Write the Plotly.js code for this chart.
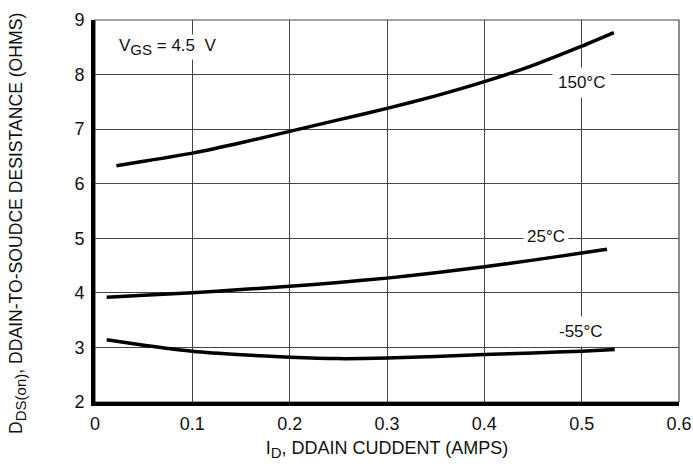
<!DOCTYPE html>
<html><head><meta charset="utf-8">
<script src="https://cdn.plot.ly/plotly-3.0.1.min.js"></script>
<style>html,body{margin:0;padding:0;background:#fff}#chart{width:693px;height:470px}</style>
</head><body><div id="chart"></div>
<script>
const x150 = [0.022, 0.05, 0.1, 0.15, 0.2, 0.25, 0.3, 0.35, 0.4, 0.45, 0.5, 0.533];
const y150 = [6.33, 6.41, 6.56, 6.75, 6.96, 7.17, 7.38, 7.61, 7.87, 8.17, 8.52, 8.77];
const x25 = [0.012, 0.05, 0.1, 0.15, 0.2, 0.25, 0.3, 0.35, 0.4, 0.45, 0.5, 0.526];
const y25 = [3.92, 3.955, 4.0, 4.06, 4.12, 4.19, 4.27, 4.37, 4.48, 4.6, 4.73, 4.8];
const xm55 = [0.012, 0.05, 0.1, 0.15, 0.2, 0.25, 0.3, 0.35, 0.4, 0.45, 0.5, 0.534];
const ym55 = [3.14, 3.04, 2.93, 2.865, 2.82, 2.795, 2.805, 2.835, 2.87, 2.9, 2.93, 2.96];
const xTicks = [0, 0.1, 0.2, 0.3, 0.4, 0.5, 0.6];
const xTickText = ['0', '0.1', '0.2', '0.3', '0.4', '0.5', '0.6'];
const yTicks = [2, 3, 4, 5, 6, 7, 8, 9];
const seriesNames = ['150°C', '25°C', '-55°C'];

const font = 'Liberation Sans, Arial, sans-serif';
const lineStyle = {color: '#000', width: 3.5, shape: 'spline', smoothing: 0.5};
const data = [
  {x: x150, y: y150, name: seriesNames[0]},
  {x: x25, y: y25, name: seriesNames[1]},
  {x: xm55, y: ym55, name: seriesNames[2]}
].map(t => Object.assign(t, {mode: 'lines', line: lineStyle, hoverinfo: 'skip'}));

const layout = {
  width: 693, height: 470,
  margin: {l: 95, r: 14, t: 20, b: 68},
  paper_bgcolor: '#fff', plot_bgcolor: '#fff',
  showlegend: false,
  font: {family: font, color: '#111', size: 16},
  xaxis: {
    range: [0, 0.6], tickvals: xTicks, ticktext: xTickText,
    showgrid: true, gridcolor: '#444', gridwidth: 1,
    zeroline: false, showline: true, linecolor: '#000', linewidth: 4,
    ticks: '', ticklabelstandoff: 2,
    tickfont: {family: font, size: 18, color: '#111'},
    title: {text: 'I<sub><span style="font-size:15px">D</span></sub>, DDAIN CUDDENT (AMPS)', font: {family: font, size: 18, color: '#111'}, standoff: 10}
  },
  yaxis: {
    range: [2, 9], tickvals: yTicks,
    showgrid: true, gridcolor: '#444', gridwidth: 1,
    zeroline: false, showline: true, linecolor: '#000', linewidth: 4,
    ticks: '', ticklabelstandoff: 3,
    tickfont: {family: font, size: 18, color: '#111'}
  },
  shapes: [
    {type: 'rect', xref: 'paper', yref: 'paper', x0: 0, x1: 1, y0: 0, y1: 1, line: {color: '#444', width: 1.2}, layer: 'below'}
  ],
  annotations: [
    {x: (17 - 95) / 584, y: (402 - 224) / 382, xref: 'paper', yref: 'paper', xanchor: 'center', yanchor: 'middle',
     showarrow: false, textangle: -90,
     text: 'D<sub><span style="font-size:15px">DS(on)</span></sub>, DDAIN-TO-SOUDCE DESISTANCE (OHMS)',
     font: {family: font, size: 17.6, color: '#111'}},
    {x: 0.023, y: 8.5, xref: 'x', yref: 'y', xanchor: 'left', yanchor: 'middle', showarrow: false,
     text: 'V<sub><span style="font-size:15px">GS</span></sub> = 4.5  V', font: {family: font, size: 17, color: '#111'}, bgcolor: '#fff'},
    {x: 0.5, y: 7.85, xref: 'x', yref: 'y', xanchor: 'center', yanchor: 'middle', showarrow: false,
     text: seriesNames[0], font: {family: font, size: 17, color: '#111'}, bgcolor: '#fff', borderpad: 5},
    {x: 0.463, y: 5.03, xref: 'x', yref: 'y', xanchor: 'center', yanchor: 'middle', showarrow: false,
     text: seriesNames[1], font: {family: font, size: 17, color: '#111'}, bgcolor: '#fff', borderpad: 3},
    {x: 0.499, y: 3.3, xref: 'x', yref: 'y', xanchor: 'center', yanchor: 'middle', showarrow: false,
     text: seriesNames[2], font: {family: font, size: 17, color: '#111'}, bgcolor: '#fff', borderpad: 5}
  ]
};
Plotly.newPlot('chart', data, layout, {displayModeBar: false, staticPlot: true});
</script></body></html>
